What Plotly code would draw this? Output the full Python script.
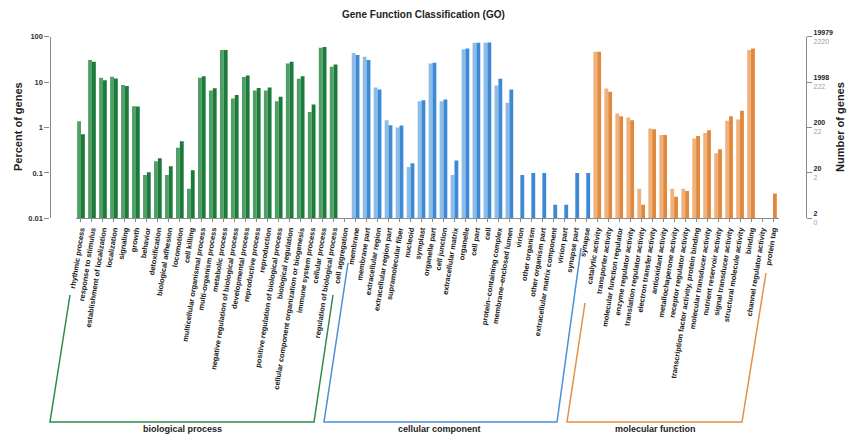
import plotly.graph_objects as go

# GO terms, grouped by ontology
bp_terms = [
    "rhythmic process", "response to stimulus", "establishment of localization",
    "localization", "signaling", "growth", "behavior", "detoxification",
    "biological adhesion", "locomotion", "cell killing",
    "multicellular organismal process", "multi-organism process", "metabolic process",
    "negative regulation of biological process", "developmental process",
    "reproductive process", "reproduction", "positive regulation of biological process",
    "biological regulation", "cellular component organization or biogenesis",
    "immune system process", "cellular process", "regulation of biological process",
    "cell aggregation",
]
cc_terms = [
    "membrane", "membrane part", "extracellular region", "extracellular region part",
    "supramolecular fiber", "nucleoid", "symplast", "organelle part", "cell junction",
    "extracellular matrix", "organelle", "cell part", "cell", "protein\u2013containing complex",
    "membrane\u2013enclosed lumen", "virion", "other organism", "other organism part",
    "extracellular matrix component", "virion part", "synapse part", "synapse",
]
mf_terms = [
    "catalytic activity", "transporter activity", "molecular function regulator",
    "enzyme regulator activity", "translation regulator activity",
    "electron transfer activity", "antioxidant activity", "metallochaperone activity",
    "receptor regulator activity", "transcription factor activity, protein binding",
    "molecular transducer activity", "nutrient reservoir activity",
    "signal transducer activity", "structural molecule activity", "binding",
    "channel regulator activity", "protein tag",
]

# Percent of genes, set A (light bars, 2220 genes) and set B (dark bars, 19979 genes)
bp_a = [1.38, 30.5, 12.5, 13.2, 8.6, 2.95, 0.09, 0.18, 0.09, 0.36, 0.045, 12.4, 6.5,
        50.8, 4.35, 13.0, 6.5, 6.5, 3.8, 25.8, 11.8, 2.2, 57.0, 21.9, None]
bp_b = [0.71, 28.0, 11.0, 12.0, 8.2, 2.9, 0.104, 0.21, 0.14, 0.5, 0.115, 13.4, 7.3,
        51.0, 5.2, 14.0, 7.4, 7.6, 4.75, 28.0, 13.5, 3.2, 59.0, 24.5, None]
cc_a = [44.0, 36.0, 7.6, 1.45, 1.0, 0.135, 3.8, 25.8, 3.8, 0.09, 52.6, 73.8, 74.0,
        8.4, 3.5, None, None, None, None, None, None, None]
cc_b = [39.5, 30.6, 6.9, 1.12, 1.1, 0.163, 3.98, 26.7, 4.15, 0.187, 55.0, 74.0, 74.5,
        11.9, 6.9, 0.09, 0.1, 0.1, 0.02, 0.02, 0.1, 0.1]
mf_a = [46.8, 7.25, 2.04, 1.66, 0.045, 0.95, 0.68, 0.045, 0.045, 0.57, 0.76, 0.27,
        1.4, 1.5, 51.0, None, None]
mf_b = [46.8, 6.1, 1.78, 1.45, 0.02, 0.91, 0.68, 0.03, 0.04, 0.65, 0.87, 0.33,
        1.78, 2.33, 55.0, None, 0.035]

pct_ticks = [0.01, 0.1, 1, 10, 100]
pct_labels = ["0.01", "0.1", "1", "10", "100"]
count_b_labels = ["2", "20", "200", "1998", "19979"]
count_a_labels = ["0", "2", "22", "222", "2220"]

group_names = ["biological process", "cellular component", "molecular function"]
group_terms = [bp_terms, cc_terms, mf_terms]
light_cols = ["#4f9f66", "#8cbde9", "#f0b27c"]
dark_cols = ["#1c7a3b", "#3d89d6", "#e0883c"]
line_cols = ["#2f8a4c", "#4a90d9", "#e39045"]

W, H = 847, 435
FONT = "Liberation Sans, Arial, sans-serif"

terms = bp_terms + cc_terms + mf_terms
vals_a = bp_a + cc_a + mf_a
vals_b = bp_b + cc_b + mf_b
cols_a, cols_b = [], []
for g, t in enumerate(group_terms):
    cols_a += [light_cols[g]] * len(t)
    cols_b += [dark_cols[g]] * len(t)

fig = go.Figure()
fig.add_trace(go.Bar(x=terms, y=vals_a, marker=dict(color=cols_a, line_width=0),
                     name="A", showlegend=False))
fig.add_trace(go.Bar(x=terms, y=vals_b, marker=dict(color=cols_b, line_width=0),
                     name="B", showlegend=False))
# invisible carrier so the gene-count axis on the right is drawn
fig.add_trace(go.Scatter(x=[terms[0]], y=[1], yaxis="y2", mode="markers",
                         marker=dict(opacity=0), hoverinfo="skip", showlegend=False))


def px(x):
    return x / W


def py(y):
    return 1 - y / H


axis_grey = "#8a8a8a"

fig.update_layout(
    width=W, height=H,
    margin=dict(l=0, r=0, t=0, b=0),
    paper_bgcolor="white", plot_bgcolor="white",
    barmode="group", bargap=0.3, bargroupgap=0,
    font=dict(family=FONT, color="#222"),
    xaxis=dict(
        type="category", domain=[px(75.5), px(778.5)], range=[-0.5, len(terms) - 0.5],
        tickangle=-81, tickfont=dict(size=7.4, color="#1a1a1a"),
        tickvals=terms, ticktext=["<b>%s</b>" % t for t in terms],
        ticks="outside", ticklen=3, tickcolor=axis_grey,
        showline=True, linecolor=axis_grey, linewidth=1,
        showgrid=False, automargin=False, anchor="y",
    ),
    yaxis=dict(
        type="log", range=[-2, 2], domain=[py(218.3), py(36.7)],
        anchor="free", position=px(49.5),
        tickvals=pct_ticks, ticktext=["<b>%s</b>" % s for s in pct_labels],
        tickfont=dict(size=7.5, color="#333"),
        ticks="outside", ticklen=5, tickcolor=axis_grey,
        showline=True, linecolor=axis_grey, linewidth=1.2,
        showgrid=False, zeroline=False, automargin=False,
    ),
    yaxis2=dict(
        type="log", range=[-2, 2], overlaying="y", side="right",
        anchor="free", position=px(806),
        tickvals=pct_ticks,
        ticktext=["<b>%s</b><br><span style='color:#a0a0a0'>%s</span>" % (b, a)
                  for b, a in zip(count_b_labels, count_a_labels)],
        tickfont=dict(size=7, color="#222"),
        ticks="outside", ticklen=5, tickcolor=axis_grey,
        showline=True, linecolor=axis_grey, linewidth=1.2,
        showgrid=False, zeroline=False, automargin=False,
    ),
)

annotations = [
    dict(text="<b>Gene Function Classification (GO)</b>", x=0.5, y=py(14),
         font=dict(size=10, color="#222")),
    dict(text="<b>Percent of genes</b>", x=px(18), y=py(127), textangle=-90,
         font=dict(size=11, color="#222")),
    dict(text="<b>Number of genes</b>", x=px(840), y=py(127), textangle=-90,
         font=dict(size=11, color="#222")),
]

# Brackets under the category labels: (top-left, bottom-left, bottom-right, top-right)
brackets = [
    [(70, 295), (50, 422), (314, 422), (333, 295)],
    [(348, 263), (324, 422), (557, 422), (581, 248)],
    [(585, 303), (567, 422), (742, 422), (766, 273)],
]
label_x = [182, 440, 655]
shapes = []
for g, pts in enumerate(brackets):
    path = "M " + " L ".join("%.5f,%.5f" % (px(a), py(b)) for a, b in pts)
    shapes.append(dict(type="path", path=path, xref="paper", yref="paper",
                       line=dict(color=line_cols[g], width=1.5)))
    annotations.append(dict(text="<b>%s</b>" % group_names[g], x=px(label_x[g]),
                            y=py(429), font=dict(size=9, color="#222")))

for a in annotations:
    a.update(xref="paper", yref="paper", showarrow=False, xanchor="center",
             yanchor="middle")

fig.update_layout(annotations=annotations, shapes=shapes)
fig.write_html("out.html")
